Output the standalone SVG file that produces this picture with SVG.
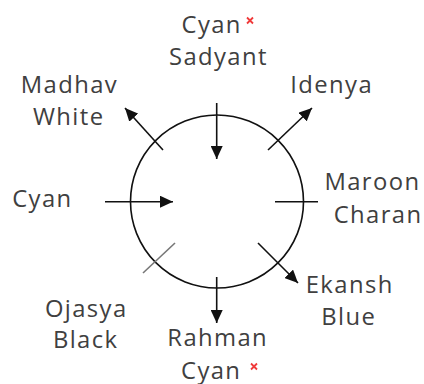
<svg xmlns="http://www.w3.org/2000/svg" width="424" height="384" viewBox="0 0 424 384">
<style>
.t{font-family:"Open Sans","DejaVu Sans",sans-serif;font-size:23.8px;letter-spacing:1.4px;fill:#404040;text-anchor:middle}
.c{stroke:#111;stroke-width:1.6;fill:none}
.x{stroke:#f03a3a;stroke-width:1.8}
</style>
<defs>
<marker id="ah" markerUnits="userSpaceOnUse" markerWidth="14" markerHeight="12" refX="13" refY="6" orient="auto">
<path d="M0,0 L13,6 L0,12 Z" fill="#111"/>
</marker>
</defs>
<rect width="424" height="384" fill="#fff"/>
<g id="circle"><circle cx="217" cy="201.5" r="86.5" class="c"/></g>
<g id="connectors" class="c">
<line x1="216.7" y1="103" x2="216.7" y2="159" marker-end="url(#ah)"/>
<line x1="105" y1="201.7" x2="173" y2="201.7" marker-end="url(#ah)"/>
<line x1="163" y1="150" x2="125" y2="108" marker-end="url(#ah)"/>
<line x1="268" y1="150" x2="312" y2="108" marker-end="url(#ah)"/>
<line x1="258" y1="243" x2="298" y2="283" marker-end="url(#ah)"/>
<line x1="216.7" y1="277" x2="216.7" y2="323" marker-end="url(#ah)"/>
<line x1="275" y1="201.7" x2="318" y2="201.7"/>
<line x1="175" y1="243" x2="143" y2="273" stroke="#777"/>
</g>
<g id="top"><text class="t" x="211.7" y="33">Cyan</text><path class="x" d="M247,17.5 L253,23.5 M253,17.5 L247,23.5"/><text class="t" x="218.4" y="65">Sadyant</text></g>
<g id="idenya"><text class="t" x="331.7" y="93">Idenya</text></g>
<g id="madhav"><text class="t" x="69.4" y="93">Madhav</text><text class="t" x="68.7" y="125">White</text></g>
<g id="cyan-left"><text class="t" x="42.4" y="207">Cyan</text></g>
<g id="maroon"><text class="t" x="372.4" y="190">Maroon</text><text class="t" x="378" y="223">Charan</text></g>
<g id="ekansh"><text class="t" x="349.7" y="293">Ekansh</text><text class="t" x="348.7" y="325">Blue</text></g>
<g id="ojasya"><text class="t" x="86.2" y="317">Ojasya</text><text class="t" x="85.7" y="348">Black</text></g>
<g id="rahman"><text class="t" x="217.7" y="346">Rahman</text><text class="t" x="211.2" y="378.5">Cyan</text><path class="x" d="M251,363.5 L257,369.5 M257,363.5 L251,369.5"/></g>
</svg>
